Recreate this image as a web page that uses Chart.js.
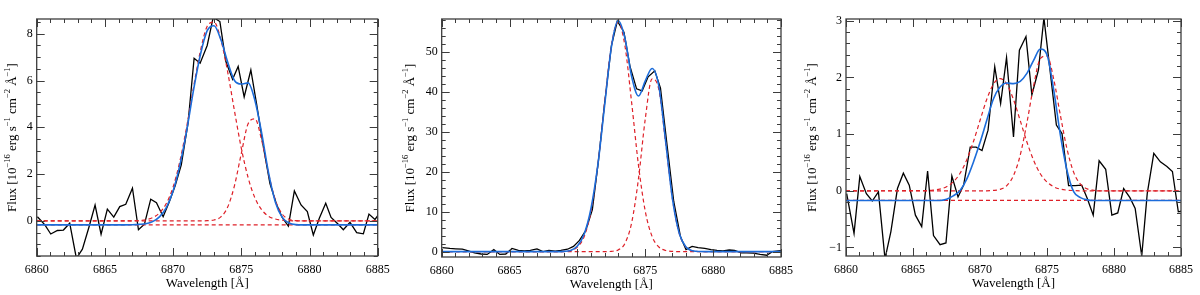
<!DOCTYPE html>
<html>
<head>
<meta charset="utf-8">
<script src="https://cdn.jsdelivr.net/npm/chart.js@4.4.1/dist/chart.umd.min.js"></script>
<style>
html, body { margin: 0; padding: 0; background: #fff; }
#wrap { position: relative; width: 1200px; height: 295px; overflow: hidden; }
canvas { position: absolute; top: 0; }
</style>
</head>
<body>
<div id="wrap">
  <canvas id="c1" width="400" height="295" style="left:0px"></canvas>
  <canvas id="c2" width="400" height="295" style="left:400px"></canvas>
  <canvas id="c3" width="400" height="295" style="left:800px"></canvas>
</div>
<script>
// observed spectra (black), same wavelength sampling in all three panels
let obsLam = [6860.05, 6860.6, 6861.03, 6861.52, 6861.96, 6862.42, 6862.91, 6863.35, 6863.84, 6864.28,
  6864.72, 6865.18, 6865.65, 6866.09, 6866.53, 6867.02, 6867.46, 6867.9, 6868.36, 6868.78,
  6869.27, 6869.71, 6870.15, 6870.6, 6871.1, 6871.54, 6871.98, 6872.5, 6872.94, 6873.43,
  6873.87, 6874.36, 6874.77, 6875.21, 6875.7, 6876.12, 6876.61, 6877.1, 6877.59, 6878.0,
  6878.45, 6878.89, 6879.38, 6879.84, 6880.28, 6880.72, 6881.19, 6881.58, 6882.07, 6882.48,
  6882.97, 6883.46, 6883.95, 6884.36, 6884.8, 6885.25];

let flux1 = [0.18, -0.17, -0.56, -0.41, -0.39, -0.10, -1.6, -1.21, -0.25, 0.68,
  -0.57, 0.50, 0.16, 0.61, 0.71, 1.40, -0.38, -0.14, 0.93, 0.78,
  0.18, 0.80, 1.50, 2.40, 4.20, 6.95, 6.74, 7.50, 8.70, 8.52,
  6.81, 6.05, 6.60, 5.30, 6.45, 5.00, 3.20, 1.60, 0.70, 0.15,
  -0.22, 1.28, 0.68, 0.40, -0.60, 0.11, 0.75, 0.15, -0.12, -0.38,
  -0.06, -0.50, -0.55, 0.29, 0.06, 0.42];

let flux2 = [1.0, 0.8, 0.7, 0.6, 0.2, -0.3, -0.6, -0.7, 0.5, -0.7,
  -0.6, 0.8, 0.3, 0.2, 0.3, 0.7, 0.0, 0.3, 0.1, 0.3,
  0.6, 1.3, 2.8, 5.2, 10.5, 22.5, 36.5, 51.5, 57.8, 55.0,
  46.5, 40.8, 40.3, 43.8, 45.3, 41.0, 26.5, 12.5, 3.8, 0.5,
  1.3, 1.0, 0.8, 0.5, 0.3, 0.2, 0.4, 0.3, -0.3, -0.3,
  -0.4, -0.7, -0.9, 0.0, 0.2, 0.3];

let flux3 = [-0.05, -0.75, 0.25, -0.05, -0.18, -0.02, -1.2, -0.72, 0.04, 0.31,
  0.10, -0.43, -0.63, 0.35, -0.79, -0.95, -0.92, 0.26, -0.11, 0.10,
  0.77, 0.77, 0.71, 1.07, 2.19, 1.54, 2.35, 0.95, 2.48, 2.72,
  1.69, 2.13, 3.05, 2.16, 1.16, 1.01, 0.09, 0.09, 0.10, -0.13,
  -0.43, 0.53, 0.38, -0.43, -0.39, 0.04, -0.12, -0.31, -1.15, -0.05,
  0.66, 0.51, 0.43, 0.34, -0.37, -0.35];

// fitted curves (blue) and the two components (red dashed)
let fitLam = [6860, 6866, 6866.5, 6867, 6867.5, 6868, 6868.5, 6869, 6869.5, 6870,
  6870.5, 6871, 6871.5, 6872, 6872.5, 6873, 6873.5, 6874, 6874.5, 6875,
  6875.5, 6876, 6876.5, 6877, 6877.5, 6878, 6878.5, 6879, 6879.5, 6880, 6885];

let fit1 = [-0.17, -0.17, -0.17, -0.165, -0.15, -0.12, -0.03, 0.17, 0.57, 1.28,
  2.39, 3.87, 5.6, 7.1, 8.13, 8.34, 7.75, 6.79, 6.0, 5.85,
  5.9, 5.15, 3.73, 2.05, 0.8, 0.15, -0.09, -0.16, -0.17, -0.17, -0.17];
let compA1 = [0, 0, 0, 0.005, 0.017, 0.05, 0.14, 0.34, 0.74, 1.45,
  2.56, 4.04, 5.72, 7.26, 8.32, 8.5, 7.75, 6.37, 4.70, 3.11,
  1.85, 0.98, 0.47, 0.20, 0.08, 0.03, 0.01, 0, 0, 0, 0];
let compB1 = [0, 0, 0, 0, 0, 0, 0, 0, 0, 0,
  0, 0, 0, 0, 0.01, 0.04, 0.17, 0.59, 1.51, 2.88,
  4.15, 4.36, 3.43, 2.02, 0.89, 0.29, 0.07, 0.01, 0, 0, 0];
let cont1 = -0.17;

let fit2 = [0, 0, 0, 0, 0, 0, 0, 0.05, 0.3, 1.4,
  4.4, 10.8, 21.6, 36.5, 51.2, 57.9, 53.5, 43.8, 39.0, 42.8,
  45.9, 41.5, 27.6, 13.25, 4.6, 1.13, 0.2, 0.02, 0, 0, 0];
let compA2 = [0, 0, 0, 0, 0, 0, 0, 0.05, 0.28, 1.15,
  3.8, 10.1, 21.6, 37.2, 51.6, 57.5, 51.6, 37.2, 21.6, 10.1,
  3.8, 1.15, 0.28, 0.05, 0, 0, 0, 0, 0, 0, 0];
let compB2 = [0, 0, 0, 0, 0, 0, 0, 0, 0, 0,
  0, 0, 0, 0, 0.06, 0.42, 2.07, 7.3, 18.3, 33.3,
  43.3, 40.6, 27.3, 13.2, 4.6, 1.13, 0.2, 0.02, 0, 0, 0];
let cont2 = null;

let fit3 = [-0.17, -0.17, -0.17, -0.17, -0.15, -0.09, 0.0, 0.2, 0.5, 0.85,
  1.24, 1.62, 1.83, 1.9, 1.89, 1.93, 2.07, 2.3, 2.5, 2.4,
  1.78, 0.98, 0.35, -0.02, -0.12, -0.16, -0.17, -0.17, -0.17, -0.17, -0.17];
let compA3 = [0, 0.004, 0.011, 0.029, 0.071, 0.155, 0.304, 0.54, 0.86, 1.24,
  1.61, 1.88, 1.98, 1.88, 1.61, 1.24, 0.86, 0.54, 0.30, 0.155,
  0.071, 0.029, 0.011, 0.004, 0, 0, 0, 0, 0, 0, 0];
let compB3 = [0, 0, 0, 0, 0, 0, 0, 0, 0, 0,
  0, 0.006, 0.026, 0.092, 0.268, 0.627, 1.2, 1.85, 2.33, 2.38,
  1.97, 1.33, 0.73, 0.32, 0.116, 0.034, 0.008, 0, 0, 0, 0];
let cont3 = -0.17;

// tick labels
let xTicks = [6860, 6865, 6870, 6875, 6880, 6885];
let yTicks1 = [0, 2, 4, 6, 8];
let yTicks2 = [0, 10, 20, 30, 40, 50];
let yTicks3 = [-1, 0, 1, 2, 3];

const serif = "'Liberation Serif', 'DejaVu Serif', serif";
const BLUE = 'rgb(28,108,218)';
const RED = 'rgb(222,32,40)';
Chart.defaults.font.family = serif;

// IDL style box with inward ticks on all four sides
const frameTicks = {
  id: 'frameTicks',
  afterDatasetsDraw(chart, args, o) {
    const ctx = chart.ctx, a = chart.chartArea;
    const x = chart.scales.x, y = chart.scales.y;
    ctx.save();
    ctx.strokeStyle = '#3c3c3c';
    ctx.lineWidth = 1;
    ctx.beginPath();
    const marks = (scale, step, len, horiz) => {
      let first = Math.ceil(scale.min / step - 1e-6);
      let last = Math.floor(scale.max / step + 1e-6);
      for (let k = first; k <= last; k++) {
        let p = Math.round(scale.getPixelForValue(k * step)) + 0.5;
        if (horiz) {
          ctx.moveTo(p, a.bottom); ctx.lineTo(p, a.bottom - len);
          ctx.moveTo(p, a.top); ctx.lineTo(p, a.top + len);
        } else {
          ctx.moveTo(a.left, p); ctx.lineTo(a.left + len, p);
          ctx.moveTo(a.right, p); ctx.lineTo(a.right - len, p);
        }
      }
    };
    marks(x, o.xMinor, 4, true);
    marks(x, o.xMajor, 8, true);
    marks(y, o.yMinor, 4, false);
    marks(y, o.yMajor, 8, false);
    ctx.stroke();
    ctx.lineWidth = 1.3;
    ctx.strokeRect(a.left, a.top, a.right - a.left, a.bottom - a.top);
    ctx.restore();
  }
};

// rotated y title with superscripts
const yTitle = {
  id: 'yTitle',
  afterDraw(chart, args, o) {
    const ctx = chart.ctx, a = chart.chartArea;
    const parts = [['Flux [10', 0], ['\u221216', 1], [' erg s', 0], ['\u22121', 1], [' cm', 0],
      ['\u22122', 1], [' \u00C5', 0], ['\u22121', 1], [']', 0]];
    const big = '13px ' + serif, small = '8.5px ' + serif;
    ctx.save();
    let w = 0;
    parts.forEach(([t, s]) => { ctx.font = s ? small : big; w += ctx.measureText(t).width; });
    ctx.translate(o.cx, (a.top + a.bottom) / 2);
    ctx.rotate(-Math.PI / 2);
    ctx.fillStyle = '#000';
    ctx.textBaseline = 'middle';
    let px = -w / 2;
    parts.forEach(([t, s]) => {
      ctx.font = s ? small : big;
      ctx.fillText(t, px, s ? -5 : 0);
      px += ctx.measureText(t).width;
    });
    ctx.restore();
  }
};

function pts(xs, ys) {
  return xs.map((x, i) => ({ x: x, y: ys[i] }));
}

function makePanel(id, p) {
  let datasets = [
    { data: pts(fitLam, p.fit), borderColor: BLUE, borderWidth: 1.6, cubicInterpolationMode: 'monotone' },
    { data: pts(fitLam, p.compA), borderColor: RED, borderWidth: 1.2, borderDash: [4, 3], cubicInterpolationMode: 'monotone' },
    { data: pts(fitLam, p.compB), borderColor: RED, borderWidth: 1.2, borderDash: [4, 3], cubicInterpolationMode: 'monotone' }
  ];
  if (p.cont !== null) {
    datasets.push({ data: [{ x: 6860, y: p.cont }, { x: 6885, y: p.cont }], borderColor: RED, borderWidth: 1.2, borderDash: [4, 3] });
  }
  datasets.push({ data: pts(obsLam, p.flux), borderColor: '#000', borderWidth: 1.3, tension: 0 });

  new Chart(document.getElementById(id), {
    type: 'line',
    data: { datasets: datasets },
    options: {
      responsive: false,
      animation: false,
      devicePixelRatio: 1,
      layout: { padding: { left: p.left - 30, right: 400 - p.right, top: 19, bottom: 295 - p.bottom - 36 } },
      elements: { point: { radius: 0 } },
      plugins: {
        legend: { display: false },
        tooltip: { enabled: false },
        frameTicks: { xMinor: 1, xMajor: 5, yMinor: p.yMinor, yMajor: p.yMajor },
        yTitle: { cx: p.titleX }
      },
      scales: {
        x: {
          type: 'linear', min: 6860, max: 6885,
          grid: { display: false, drawTicks: false },
          border: { display: false },
          afterBuildTicks: s => { s.ticks = xTicks.map(v => ({ value: v })); },
          afterFit: s => { s.height = 36; },
          ticks: { font: { size: 12 }, color: '#000', padding: 7, maxRotation: 0, autoSkip: false, callback: v => String(v) },
          title: { display: true, text: 'Wavelength [\u00C5]', font: { size: 13 }, color: '#000', padding: { top: 0, bottom: 1 } }
        },
        y: {
          type: 'linear', min: p.yMin, max: p.yMax,
          grid: { display: false, drawTicks: false },
          border: { display: false },
          afterBuildTicks: s => { s.ticks = p.yTicks.map(v => ({ value: v })); },
          afterFit: s => { s.width = 30; },
          ticks: { font: { size: 12 }, color: '#000', padding: 4, autoSkip: false, callback: v => v < 0 ? '\u2212' + (-v) : String(v) }
        }
      }
    },
    plugins: [frameTicks, yTitle]
  });
}

makePanel('c1', { left: 36.7, right: 377.7, bottom: 256, yMin: -1.5, yMax: 8.63, yTicks: yTicks1, yMinor: 0.5, yMajor: 2, titleX: 13,
  fit: fit1, compA: compA1, compB: compB1, cont: cont1, flux: flux1 });
makePanel('c2', { left: 41.7, right: 381.7, bottom: 257, yMin: -1.35, yMax: 58.3, yTicks: yTicks2, yMinor: 2, yMajor: 10, titleX: 11,
  fit: fit2, compA: compA2, compB: compB2, cont: cont2, flux: flux2 });
makePanel('c3', { left: 46, right: 386.7, bottom: 256, yMin: -1.15, yMax: 3.03, yTicks: yTicks3, yMinor: 0.2, yMajor: 1, titleX: 13,
  fit: fit3, compA: compA3, compB: compB3, cont: cont3, flux: flux3 });
</script>
</body>
</html>
